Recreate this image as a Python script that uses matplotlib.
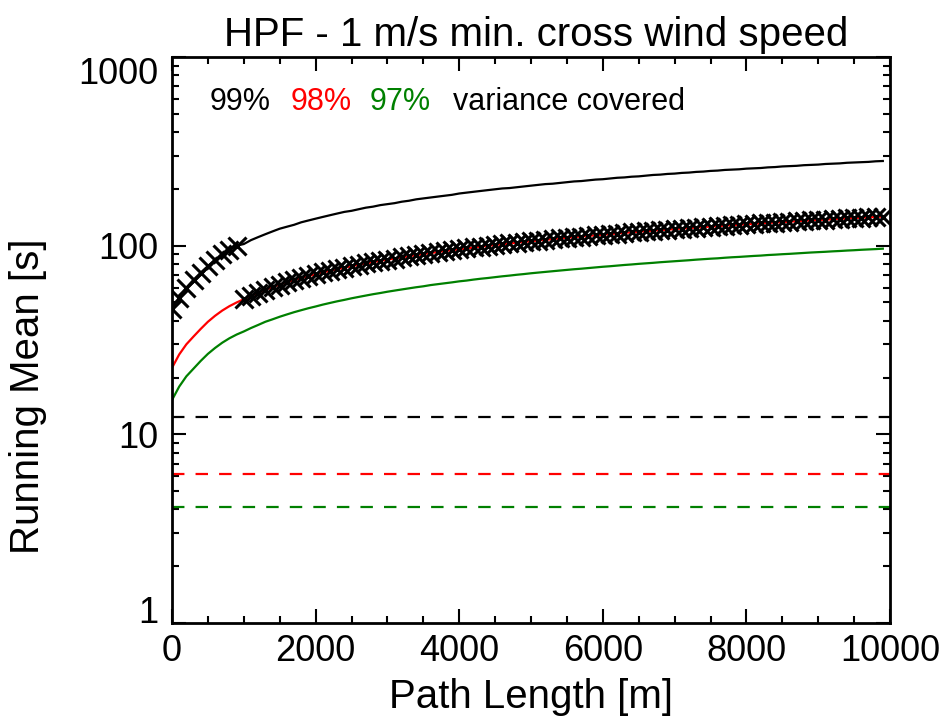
import matplotlib
matplotlib.use("Agg")
import matplotlib.pyplot as plt
import matplotlib.ticker as mticker
import numpy as np

plt.rcParams['font.family'] = ['Liberation Sans', 'DejaVu Sans']

# path length grid [m], one value every 100 m
path_length = np.arange(0, 10000, 100)

# running mean [s] for 99% / 98% / 97% variance covered
mean_99 = [
    46, 53, 60, 66, 72, 78, 84, 90, 95, 100,
    102, 107, 111, 115, 119, 123, 126, 129, 133, 136,
    139, 142, 145, 148, 151, 153, 156, 159, 161, 164,
    166, 168, 171, 173, 176, 178, 180, 182, 184, 186,
    189, 191, 193, 195, 197, 199, 201, 202, 204, 206,
    208, 210, 212, 213, 215, 217, 219, 220, 222, 224,
    225, 227, 229, 230, 232, 233, 235, 237, 238, 240,
    241, 243, 244, 246, 247, 249, 250, 252, 253, 254,
    256, 257, 258, 260, 261, 263, 264, 265, 267, 268,
    269, 271, 272, 273, 275, 276, 277, 278, 280, 281,
]
mean_98 = [
    22.5, 26.5, 30.0, 33.0, 36.2, 39.5, 42.5, 45.3, 47.8, 50.0,
    52.0, 54.2, 56.3, 58.4, 60.3, 62.2, 63.9, 65.7, 67.3, 69.0,
    70.5, 72.1, 73.6, 75.0, 76.4, 77.8, 79.2, 80.5, 81.8, 83.1,
    84.3, 85.5, 86.8, 87.9, 89.1, 90.2, 91.4, 92.5, 93.6, 94.6,
    95.7, 96.7, 97.8, 98.8, 99.8, 100.8, 101.8, 102.7, 103.7, 104.6,
    105.6, 106.5, 107.4, 108.3, 109.2, 110.1, 111.0, 111.8, 112.7, 113.5,
    114.4, 115.2, 116.0, 116.9, 117.7, 118.5, 119.3, 120.1, 120.9, 121.6,
    122.4, 123.2, 123.9, 124.7, 125.5, 126.2, 126.9, 127.7, 128.4, 129.1,
    129.8, 130.5, 131.2, 132.0, 132.6, 133.3, 134.0, 134.7, 135.4, 136.1,
    136.7, 137.4, 138.1, 138.7, 139.4, 140.0, 140.7, 141.3, 142.0, 142.6,
]
mean_97 = [
    15.2, 17.9, 20.3, 22.3, 24.5, 26.7, 28.7, 30.6, 32.3, 33.8,
    35.1, 36.6, 38.0, 39.5, 40.7, 42.0, 43.2, 44.4, 45.5, 46.6,
    47.6, 48.7, 49.7, 50.7, 51.6, 52.6, 53.5, 54.4, 55.3, 56.1,
    57.0, 57.8, 58.6, 59.4, 60.2, 60.9, 61.8, 62.5, 63.2, 63.9,
    64.7, 65.3, 66.1, 66.8, 67.4, 68.1, 68.8, 69.4, 70.1, 70.7,
    71.4, 72.0, 72.6, 73.2, 73.8, 74.4, 75.0, 75.5, 76.1, 76.7,
    77.3, 77.8, 78.4, 79.0, 79.5, 80.1, 80.6, 81.1, 81.7, 82.2,
    82.7, 83.2, 83.7, 84.3, 84.8, 85.3, 85.7, 86.3, 86.8, 87.2,
    87.7, 88.2, 88.6, 89.2, 89.6, 90.1, 90.5, 91.0, 91.5, 92.0,
    92.4, 92.8, 93.3, 93.7, 94.2, 94.6, 95.1, 95.5, 95.9, 96.4,
]

# horizontal reference levels [s]
levels = [12.4, 6.2, 4.13]

labels = ['99%', '98%', '97%']
colors = ['black', 'red', 'green']
switch_at = 1000  # markers follow 99% curve below this, 98% above

fig = plt.figure(figsize=(9.47, 7.24), dpi=100)
ax = fig.add_axes([172 / 947, 1 - 623 / 724, 718 / 947, 566 / 724])

for series, col in zip([mean_99, mean_98, mean_97], colors):
    ax.plot(path_length, series, color=col, lw=1.6)

chosen = np.where(path_length < switch_at, mean_99, mean_98)
ax.plot(path_length, chosen, ls='none', marker='x', color='black',
        markersize=13, markeredgewidth=2.2)

for lev, col in zip(levels, colors):
    ax.axhline(lev, color=col, lw=1.6, ls=(0, (5.6, 5.0)))

ax.set_yscale('log')
ax.set_xlim(0, 10000)
ax.set_ylim(1, 1000)
ax.xaxis.set_major_locator(mticker.MultipleLocator(2000))
ax.xaxis.set_minor_locator(mticker.MultipleLocator(500))
ax.yaxis.set_major_locator(mticker.FixedLocator([1, 10, 100, 1000]))
ax.yaxis.set_major_formatter(mticker.FixedFormatter(['1', '10', '100', '1000']))
ax.yaxis.set_minor_locator(mticker.LogLocator(base=10, subs=np.arange(2, 10)))
ax.yaxis.set_minor_formatter(mticker.NullFormatter())

ax.tick_params(which='both', direction='in', top=True, right=True,
               labelsize=26, width=1.5)
ax.tick_params(which='major', length=10, pad=10)
ax.tick_params(axis='x', which='major', pad=8)
ax.tick_params(which='minor', length=5)
for sp in ax.spines.values():
    sp.set_linewidth(2)

# IDL-style: end labels pulled inside the axis range
fig.canvas.draw()
ylabs = ax.get_yticklabels()
ylabs[0].set_verticalalignment('baseline')
ylabs[-1].set_verticalalignment('top')

fig.text(531 / 947, 1 - 708 / 724, 'Path Length [m]', fontsize=29,
         ha='center', va='baseline')
fig.text(28 / 947, 1 - 396 / 724, 'Running Mean [s]', fontsize=29,
         rotation=90, ha='center', va='center')
fig.text(536 / 947, 1 - 46 / 724, 'HPF - 1 m/s min. cross wind speed',
         fontsize=29, ha='center', va='baseline')

text_x = [210, 291, 370, 453]
for tx, s, col in zip(text_x, labels + ['variance covered'], colors + ['black']):
    fig.text(tx / 947, 1 - 102 / 724, s, color=col, fontsize=22,
             ha='left', va='center')

fig.savefig('out.png', dpi=100)
